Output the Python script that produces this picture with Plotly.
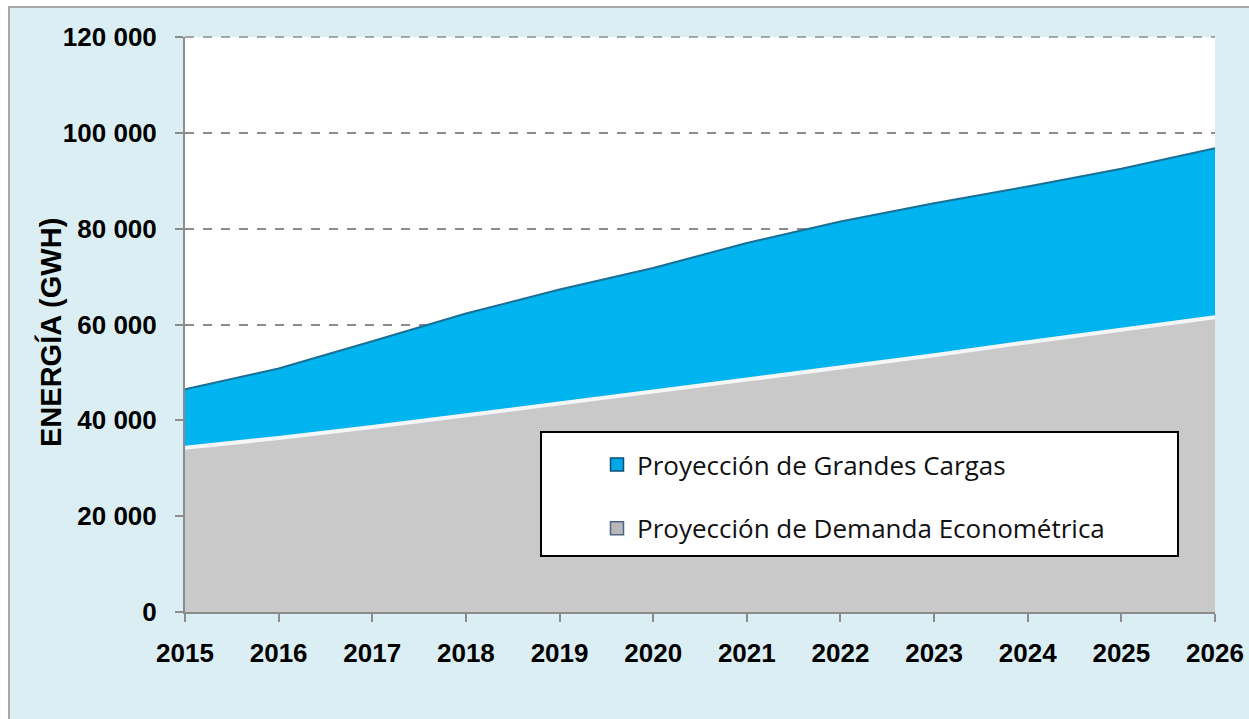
import plotly.graph_objects as go

years = list(range(2015, 2027))
demanda_econometrica = [34300, 36300, 38600, 41000, 43500, 46000, 48500, 51000, 53600, 56300, 58900, 61500]
grandes_cargas = [12200, 14500, 17900, 21300, 23800, 25800, 28500, 30500, 31700, 32500, 33600, 35300]
y_ticks = [0, 20000, 40000, 60000, 80000, 100000, 120000]

# body margin is removed by post_script, so the figure starts at page (0, 0)
OFF = 0
W, H = 1249, 719
L, T = 185 - OFF, 37 - OFF
R = W - (1215 - OFF)
B = H - (612 - OFF)
PW, PH = W - L - R, H - T - B


def px(xpage):
    return (xpage - OFF - L) / PW


def py(ypage):
    return (H - B - (ypage - OFF)) / PH


fig = go.Figure()

fig.add_trace(go.Scatter(
    x=years, y=demanda_econometrica, stackgroup="one", mode="lines",
    line=dict(color="#F4F6F8", width=4), fillcolor="#C9C9C9",
    showlegend=False, hoverinfo="skip", name="Proyección de Demanda Econométrica"))
fig.add_trace(go.Scatter(
    x=years, y=grandes_cargas, stackgroup="one", mode="lines",
    line=dict(color="#1A6F95", width=2), fillcolor="#00B4F0",
    showlegend=False, hoverinfo="skip", name="Proyección de Grandes Cargas"))

# legend entries
fig.add_trace(go.Scatter(
    x=[None], y=[None], mode="markers", name="Proyección de Grandes Cargas",
    legendgroup="a",
    marker=dict(symbol="square", size=13, color="#00A8E6",
                line=dict(color="#0B4F75", width=1.5))))
fig.add_trace(go.Scatter(
    x=[None], y=[None], mode="markers", name="Proyección de Demanda Econométrica",
    legendgroup="b",
    marker=dict(symbol="square", size=13, color="#B8B8BC",
                line=dict(color="#4E6485", width=1.5))))

shapes = [
    # outer frame border
    dict(type="rect", xref="paper", yref="paper", layer="below",
         x0=px(9), x1=px(W + 60), y0=py(H + 60), y1=py(7),
         fillcolor="#DBEEF3", line=dict(color="#A6A6A6", width=2)),
    # white plot area
    dict(type="rect", xref="x domain", yref="y domain", layer="below",
         x0=0, x1=1, y0=0, y1=1, fillcolor="white", line=dict(width=0)),
    # top dashed gridline
    dict(type="line", xref="x domain", yref="y domain", layer="below",
         x0=0, x1=1, y0=1, y1=1, line=dict(color="#8C8C8C", width=1.5, dash="dash")),
    # legend box
    dict(type="rect", xref="paper", yref="paper", layer="above",
         x0=px(541), x1=px(1178), y0=py(556), y1=py(432),
         fillcolor="white", line=dict(color="black", width=2)),
]

tickfont = dict(family="Liberation Sans, Arial, sans-serif", size=26, color="black", weight="bold")

fig.update_layout(
    width=W, height=H,
    margin=dict(l=L, r=R, t=T, b=B, autoexpand=False),
    paper_bgcolor="white",
    plot_bgcolor="white",
    separators=". ",
    shapes=shapes,
    showlegend=True,
    legend=dict(
        x=px(597), y=py(441), xanchor="left", yanchor="top",
        bgcolor="rgba(0,0,0,0)", borderwidth=0,
        tracegroupgap=27, traceorder="grouped",
        font=dict(family="Open Sans, Noto Sans, sans-serif", size=26, color="#111111"),
    ),
    annotations=[dict(
        text="ENERGÍA (GWH)", textangle=-90, showarrow=False,
        xref="paper", yref="paper", x=px(50), y=py(333),
        xanchor="center", yanchor="middle",
        font=dict(family="Liberation Sans, Arial, sans-serif", size=29,
                  color="black", weight="bold"),
    )],
    xaxis=dict(
        range=[2015, 2026], tickmode="array", tickvals=years,
        ticktext=[str(y) for y in years],
        showgrid=False, zeroline=False, automargin=False,
        showline=True, linecolor="#8C8C8C", linewidth=2,
        ticks="outside", ticklen=8, tickwidth=2, tickcolor="#8C8C8C",
        tickfont=tickfont, ticklabelstandoff=9, ticklabeloverflow="allow",
    ),
    yaxis=dict(
        range=[0, 120000], tickmode="array", tickvals=y_ticks,
        tickformat=",d", automargin=False,
        showgrid=True, gridcolor="#8C8C8C", gridwidth=1.5, griddash="dash",
        zeroline=False,
        showline=True, linecolor="#8C8C8C", linewidth=2,
        ticks="outside", ticklen=8, tickwidth=2, tickcolor="#8C8C8C",
        tickfont=tickfont, ticklabelstandoff=13,
    ),
)

fig.write_html(
    "out.html",
    config={"displayModeBar": False},
    post_script="document.body.style.margin='0';document.body.style.overflow='hidden';",
)
